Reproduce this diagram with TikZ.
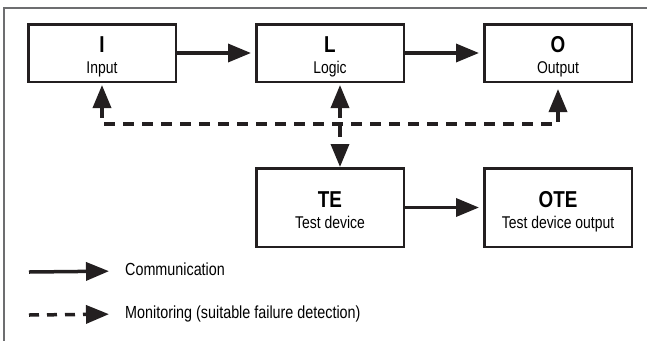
\documentclass[tikz,border=0pt]{standalone}
\usepackage{fontspec}
\setmainfont{Liberation Sans}[FakeStretch=0.82]
\usetikzlibrary{arrows.meta,positioning}
\definecolor{frameline}{HTML}{6D6E70}
\definecolor{inkblack}{HTML}{231F20}
\newcommand{\blocktext}[2]{\rule{0pt}{24pt}{\fontsize{23}{21}\selectfont\bfseries #1}\\\rule[-4pt]{0pt}{4pt}#2}

\begin{document}
\begin{tikzpicture}[
 x=1pt,y=-1pt,
 >={Triangle[length=23pt,width=18pt]},
 block/.style={draw=inkblack,line width=2.5pt,minimum width=147.5pt,minimum height=57.5pt,inner sep=0pt,align=center,font=\fontsize{17}{21}\selectfont},
 tallblock/.style={block,minimum height=78.5pt},
 comm/.style={draw=inkblack,line width=3.5pt,->},
 monitor/.style={comm,dash pattern=on 11pt off 8pt},
 legend/.style={anchor=west,inner sep=0pt,text height=12pt,text depth=3pt,font=\fontsize{17.5}{19}\selectfont}
]
\useasboundingbox (0,0) rectangle (647,341);
\draw[frameline,line width=1.5pt] (647,8) -- (4,8) -- (4,341);
% channel blocks
\node[block] (I) at (102,53) {\blocktext{I}{Input}};
\node[block,right=78pt of I] (L) {\blocktext{L}{Logic}};
\node[block,right=78pt of L] (O) {\blocktext{O}{Output}};
\node[tallblock,below=84pt of L] (TE) {\blocktext{TE}{Test device}};
\node[tallblock,right=78pt of TE] (OTE) {\blocktext{OTE}{Test device output}};
\draw[comm,shorten >=4pt] (I) -- (L);
\draw[comm,shorten >=4pt] (L) -- (O);
\draw[comm,shorten >=4pt] (TE) -- (OTE);
% monitoring
\coordinate (bus) at (0,124);
\coordinate (mtop) at ([xshift=10pt]L.south);
\coordinate (mbot) at ([xshift=10pt]TE.north);
\draw[monitor,<->,shorten <=2pt,shorten >=6pt] (I.south) -- (I.south |- bus) -- (O.south |- bus) -- (O.south);
\draw[monitor,<->,shorten <=2pt] (mtop) -- (mbot);
% legend
\coordinate (commfrom) at (29,272);
\coordinate (monfrom) at (29,315);
\node[legend] (commtext) at (125,271) {Communication};
\node[legend] (montext) at (125,314) {Monitoring (suitable failure detection)};
\draw[comm,shorten >=16pt] (commfrom) -- (commtext.west);
\draw[monitor,dash pattern=on 10pt off 8pt,shorten >=16pt] (monfrom) -- (montext.west);
\end{tikzpicture}
\end{document}
